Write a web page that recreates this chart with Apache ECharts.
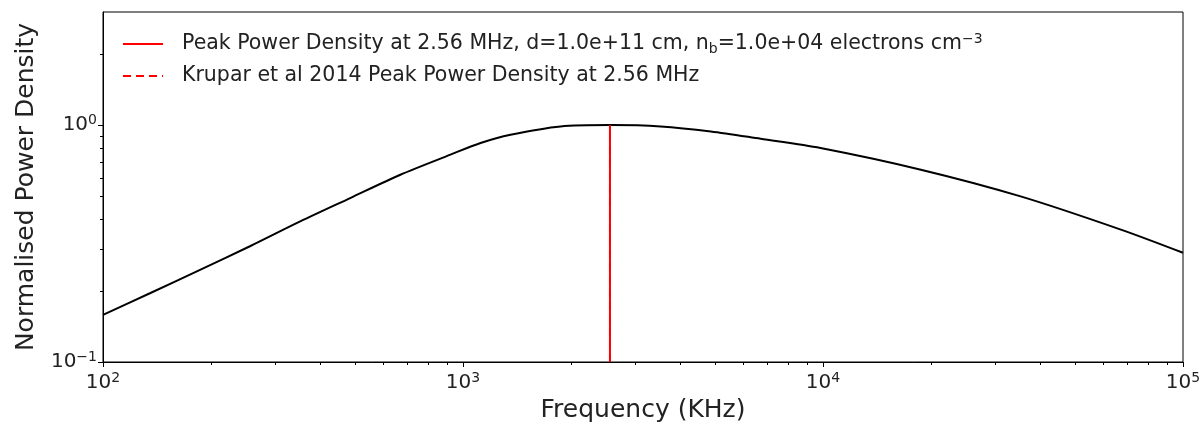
<!DOCTYPE html>
<html>
<head>
<meta charset="utf-8">
<script src="https://cdn.jsdelivr.net/npm/echarts@6/dist/echarts.min.js"></script>
<style>html,body{margin:0;padding:0;background:#fff}#c{width:1204px;height:428px}</style>
</head>
<body>
<div id="c"></div>
<script>
// Data
var freqKHz = [100, 135, 186, 256, 353, 486, 670, 923, 1119, 1355, 1866, 2560, 3540, 4880, 6710, 9840, 18700, 35400, 67200, 100000];
var power   = [0.158, 0.195, 0.245, 0.308, 0.392, 0.492, 0.617, 0.750, 0.840, 0.910, 0.987, 1.000, 0.987, 0.940, 0.875, 0.800, 0.648, 0.500, 0.362, 0.289];
var peakFreq = [2560, 2560];
var peakPower = [0.1, 1.0];
var kruparFreq = [2560, 2560];
var kruparPower = [0.1, 1.0];
var xMajorTicks = [100, 1000, 10000, 100000];
var yMajorTicks = [0.1, 1];
var xMinorTicks = [200,300,400,500,600,700,800,900,2000,3000,4000,5000,6000,7000,8000,9000,20000,30000,40000,50000,60000,70000,80000,90000];
var yMinorTicks = [0.2,0.3,0.4,0.5,0.6,0.7,0.8,0.9,2];
var peakName = 'Peak Power Density at 2.56 MHz, d=1.0e+11 cm, nb=1.0e+04 electrons cm-3';
var kruparName = 'Krupar et al 2014 Peak Power Density at 2.56 MHz';

function pairs(a, b) { return a.map(function (v, i) { return [v, b[i]]; }); }
function powLabel(v) {
  var e = Math.round(Math.log10(v));
  return '10{sup|' + (e < 0 ? '\u2212' + (-e) : e) + '}';
}
var FONT = 'DejaVu Sans';
var TXT = '#222';
var richSup = { sup: { fontSize: 14, verticalAlign: 'top', padding: [0, 0, 9, 0], fontFamily: FONT, color: TXT } };
var X_MIN = 100, X_MAX = 100000, Y_MIN = 0.1, Y_MAX = 3;

var chart = echarts.init(document.getElementById('c'), null, { renderer: 'canvas' });
chart.setOption({
  animation: false,
  backgroundColor: '#fff',
  grid: { left: 103, top: 12, right: 21, bottom: 66, show: true, borderColor: '#000', borderWidth: 1, containLabel: false },
  legend: {
    orient: 'vertical', left: 117, top: 27, itemWidth: 40, itemHeight: 24, itemGap: 8,
    data: [peakName, kruparName],
    itemStyle: { opacity: 0 },
    formatter: function (n) {
      if (n === peakName) return 'Peak Power Density at 2.56 MHz, d=1.0e+11 cm, n{sub|b}=1.0e+04 electrons cm{sup|\u22123}';
      return n;
    },
    textStyle: {
      fontFamily: FONT, fontSize: 20.5, color: TXT, padding: [0, 0, 0, 14], lineHeight: 24,
      rich: {
        sub: { fontSize: 14, verticalAlign: 'bottom', lineHeight: 24, padding: [7, 0, 0, 0], fontFamily: FONT, color: TXT },
        sup: { fontSize: 14, verticalAlign: 'top', lineHeight: 24, padding: [0, 0, 7, 0], fontFamily: FONT, color: TXT }
      }
    }
  },
  xAxis: {
    type: 'log', logBase: 10, min: X_MIN, max: X_MAX,
    name: 'Frequency (KHz)', nameLocation: 'middle', nameGap: 36,
    nameTextStyle: { fontFamily: FONT, fontSize: 25, color: TXT },
    axisLine: { show: true, lineStyle: { color: '#000', width: 1 } },
    axisTick: { show: true, length: 5, lineStyle: { color: '#000' }, customValues: xMajorTicks },
    axisLabel: { show: true, margin: 9, fontFamily: FONT, fontSize: 20, color: TXT, customValues: xMajorTicks, formatter: powLabel, rich: richSup },
    splitLine: { show: false }
  },
  yAxis: {
    type: 'log', logBase: 10, min: Y_MIN, max: Y_MAX,
    name: 'Normalised Power Density', nameLocation: 'middle', nameGap: 64,
    nameTextStyle: { fontFamily: FONT, fontSize: 25, color: TXT },
    axisLine: { show: true, lineStyle: { color: '#000', width: 1 } },
    axisTick: { show: true, length: 5, lineStyle: { color: '#000' }, customValues: yMajorTicks },
    axisLabel: { show: true, margin: 6, fontFamily: FONT, fontSize: 20, color: TXT, customValues: yMajorTicks, formatter: powLabel, rich: richSup },
    splitLine: { show: false }
  },
  series: [{
    name: kruparName, type: 'line', data: pairs(kruparFreq, kruparPower), symbol: 'none', z: 1,
    lineStyle: { color: '#ff0000', width: 2, type: [8, 5] }, itemStyle: { color: '#ff0000' }
  }, {
    name: 'curve', type: 'line', data: pairs(freqKHz, power), symbol: 'none', smooth: 0.3, z: 2,
    lineStyle: { color: '#000', width: 2 }
  }, {
    name: peakName, type: 'line', data: pairs(peakFreq, peakPower), symbol: 'none', z: 3,
    lineStyle: { color: '#ff0000', width: 2 }, itemStyle: { color: '#ff0000' }
  }, {
    name: 'xMinorTicks', type: 'custom', clip: false, silent: true, z: 5,
    data: xMinorTicks.map(function (v) { return [v, Y_MIN]; }),
    renderItem: function (params, api) {
      var p = api.coord([api.value(0), api.value(1)]);
      return { type: 'line', shape: { x1: Math.round(p[0]) + 0.5, y1: p[1], x2: Math.round(p[0]) + 0.5, y2: p[1] + 3 }, style: { stroke: '#000', lineWidth: 1 } };
    }
  }, {
    name: 'yMinorTicks', type: 'custom', clip: false, silent: true, z: 5,
    data: yMinorTicks.map(function (v) { return [X_MIN, v]; }),
    renderItem: function (params, api) {
      var p = api.coord([api.value(0), api.value(1)]);
      return { type: 'line', shape: { x1: p[0] - 3, y1: Math.round(p[1]) + 0.5, x2: p[0], y2: Math.round(p[1]) + 0.5 }, style: { stroke: '#000', lineWidth: 1 } };
    }
  }]
});
</script>
</body>
</html>
